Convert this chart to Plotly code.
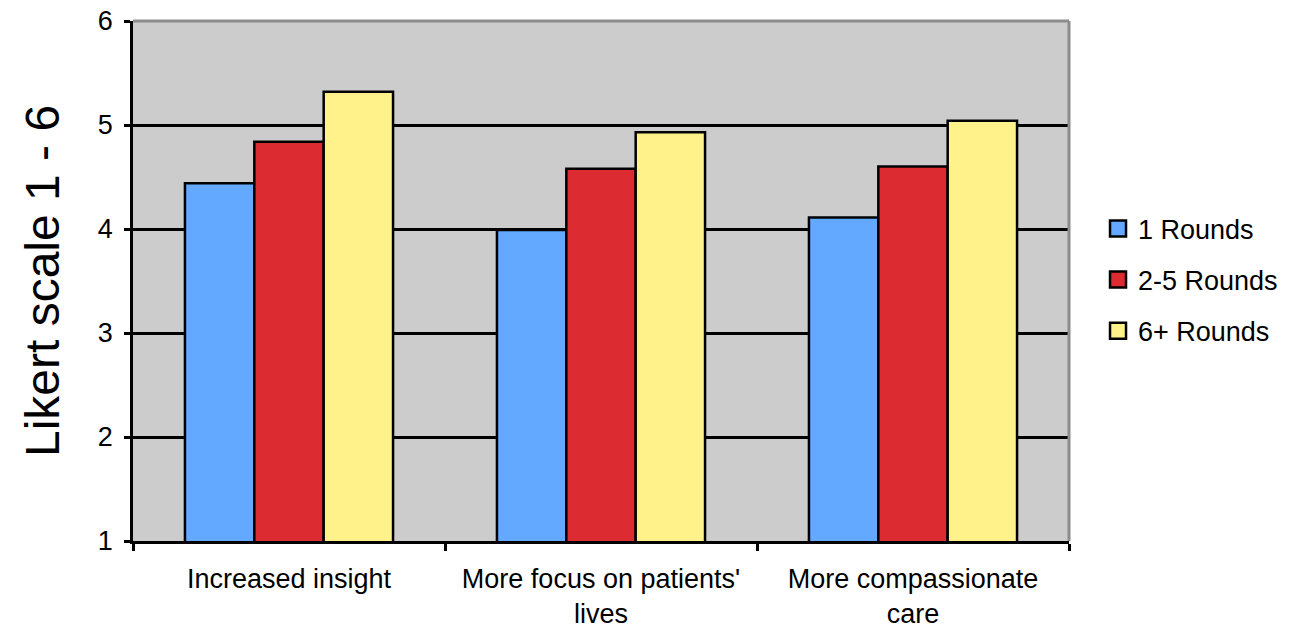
import plotly.graph_objects as go

categories = ["Increased insight", "More focus on patients'<br>lives", "More compassionate<br>care"]
series_names = ["1 Rounds", "2-5 Rounds", "6+ Rounds"]
one_round = [4.44, 3.99, 4.11]
two_to_five = [4.84, 4.58, 4.60]
six_plus = [5.32, 4.93, 5.04]
y_ticks = [1, 2, 3, 4, 5, 6]

colors = ["#62A9FF", "#DC2B31", "#FFF28A"]
values = [one_round, two_to_five, six_plus]

fig = go.Figure()
for name, vals, col in zip(series_names, values, colors):
    fig.add_trace(go.Bar(
        x=categories, y=vals, name=name, showlegend=False,
        marker=dict(color=col, line=dict(color="black", width=2.5)),
    ))
# legend entries drawn as larger outlined squares
for name, col in zip(series_names, colors):
    fig.add_trace(go.Scatter(
        x=[None], y=[None], mode="markers", name=name, legendgroup=name,
        marker=dict(symbol="square", size=19, color=col,
                    line=dict(color="black", width=2.5)),
    ))

font = "Liberation Sans, Arial, sans-serif"
fig.update_layout(
    width=1301, height=629,
    margin=dict(l=133, r=232, t=21, b=88, autoexpand=False),
    paper_bgcolor="white", plot_bgcolor="#CCCCCC",
    barmode="group", bargap=0.333, bargroupgap=0,
    font=dict(family=font, color="black", size=27),
    showlegend=True,
    legend=dict(x=1.031, y=0.502, xanchor="left", yanchor="middle",
                font=dict(size=27), tracegroupgap=13, itemwidth=30,
                bgcolor="rgba(0,0,0,0)"),
    xaxis=dict(
        automargin=False,
        tickson="boundaries", ticks="outside", ticklen=7, tickwidth=2.5,
        tickcolor="black", showline=True, linecolor="black", linewidth=2.5,
        tickfont=dict(size=27), showgrid=False, ticklabelstandoff=12,
    ),
    yaxis=dict(
        automargin=False,
        range=[1, 6], tickvals=y_ticks, ticks="outside", ticklen=6, tickwidth=2.5,
        tickcolor="black", showline=True, linecolor="black", linewidth=2.5,
        showgrid=True, gridcolor="black", gridwidth=2.5, zeroline=False,
        tickfont=dict(size=27), ticklabelstandoff=6,
        title=dict(text="Likert scale 1 - 6", font=dict(size=48), standoff=24),
    ),
    shapes=[
        dict(type="line", xref="paper", yref="paper", x0=0, x1=1, y0=1, y1=1,
             line=dict(color="#8C8C8C", width=3)),
        dict(type="line", xref="paper", yref="paper", x0=1, x1=1, y0=0, y1=1,
             line=dict(color="#8C8C8C", width=3)),
    ],
)

fig.write_html("out.html")
